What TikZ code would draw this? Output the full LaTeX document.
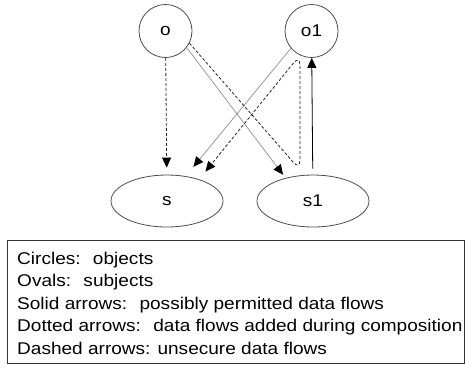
\documentclass[tikz,border=0pt]{standalone}
\usepackage{fontspec}
\setmainfont{Liberation Sans}[FakeStretch=1.12]
\usetikzlibrary{arrows.meta,shapes.geometric}
\begin{document}
\begin{tikzpicture}[x=1pt,y=-1pt,font=\fontsize{17}{22.6}\selectfont,
        obj/.style={circle,draw=black!70,line width=0.8pt,minimum size=53pt,inner sep=0pt},
        subj/.style={ellipse,draw=black!70,line width=0.8pt,minimum width=112pt,minimum height=52pt,inner sep=0pt},
        tip/.style={-{Triangle[length=10pt,width=9pt,black]}},
        permitted/.style={tip,black,line width=0.8pt},
        added/.style={tip,black!40,line width=0.8pt},
        unsecure/.style={tip,black!85,line width=0.8pt,dash pattern=on 3pt off 2pt}]
        \useasboundingbox (0,0) rectangle (465,368);
        \node[obj] (o) at (165.5,31) {o};
        \node[obj] (o1) at (311.5,31) {o1};
        \node[subj] (s) at (167,201) {s};
        \node[subj] (s1) at (313,201) {s1};
        \coordinate (bend1) at (300,170);
        \coordinate (bend2) at (300,55);
        \draw[unsecure,shorten >=7pt] (o) -- (s);
        \draw[added,shorten >=4pt] (o.-38) -- (s1.140);
        \draw[added,shorten >=12pt] (o1.-140) -- (s.53);
        \draw[permitted,shorten <=6pt] (s1) -- (o1);
        \draw[unsecure,rounded corners=10pt,shorten >=10pt] (o.-27) -- (bend1) -- (bend2) -- (s.34);
        \node[draw=black!80,line width=0.8pt,anchor=north west,minimum width=457pt,minimum height=123pt,inner sep=0pt] (legend) at (7,240) {};
        \node[anchor=north west,align=left,inner sep=0pt] (legtext) at (17,251.5)
            {Circles:~ objects\\Ovals:~ subjects\\Solid arrows:~ possibly permitted data flows\\Dotted arrows:~ data flows added during composition\\Dashed arrows: unsecure data flows};
    \end{tikzpicture}
\end{document}
